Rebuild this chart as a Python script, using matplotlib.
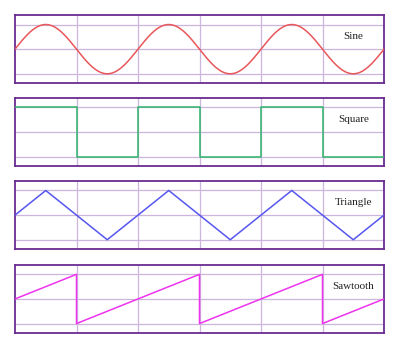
import numpy as np
import matplotlib
matplotlib.use("Agg")
import matplotlib.pyplot as plt

# waveforms over 6 grid divisions, period 2 divisions
names = ["Sine", "Square", "Triangle", "Sawtooth"]
colors = ["#e8575a", "#2fb56a", "#5656f0", "#ee33ee"]

sine_period = 2.0
sine_amp = 1.0

square_x = [0, 1, 1, 2, 2, 3, 3, 4, 4, 5, 5, 6]
square_y = [1, 1, -1, -1, 1, 1, -1, -1, 1, 1, -1, -1]

tri_x = [0, 0.5, 1.5, 2.5, 3.5, 4.5, 5.5, 6]
tri_y = [0, 1, -1, 1, -1, 1, -1, 0]

saw_x = [0, 1, 1, 3, 3, 5, 5, 6]
saw_y = [0, 1, -1, 1, -1, 1, -1, 0]

label_x = 5.5
label_y = 0.5

frame_col = "#6a2c91"
grid_col = "#cdb6de"

fig = plt.figure(figsize=(4.0, 3.45), dpi=100)
bottoms = [0.759, 0.519, 0.278, 0.035]

sx = np.linspace(0, 6, 400)
sy = sine_amp * np.sin(2 * np.pi * sx / sine_period)
series = [(sx, sy), (square_x, square_y), (tri_x, tri_y), (saw_x, saw_y)]

for i, (name, (xs, ys)) in enumerate(zip(names, series)):
    ax = fig.add_axes([0.0375, bottoms[i], 0.9225, 0.197])
    ax.set_xlim(0, 6)
    ax.set_ylim(-1.38, 1.38)
    for gx in range(1, 6):
        ax.axvline(gx, color=grid_col, lw=0.9, zorder=1)
    for gy in (-1, 0, 1):
        ax.axhline(gy, color=grid_col, lw=0.9, zorder=1)
    ax.plot(xs, ys, color=colors[i], lw=1.1, zorder=3)
    ax.text(label_x, label_y, name, ha="center", va="center",
            fontsize=8, family="Liberation Serif", color="#222222", zorder=4)
    ax.set_xticks([])
    ax.set_yticks([])
    for s in ax.spines.values():
        s.set_color(frame_col)
        s.set_linewidth(1.3)

fig.savefig("out.png", dpi=100)
